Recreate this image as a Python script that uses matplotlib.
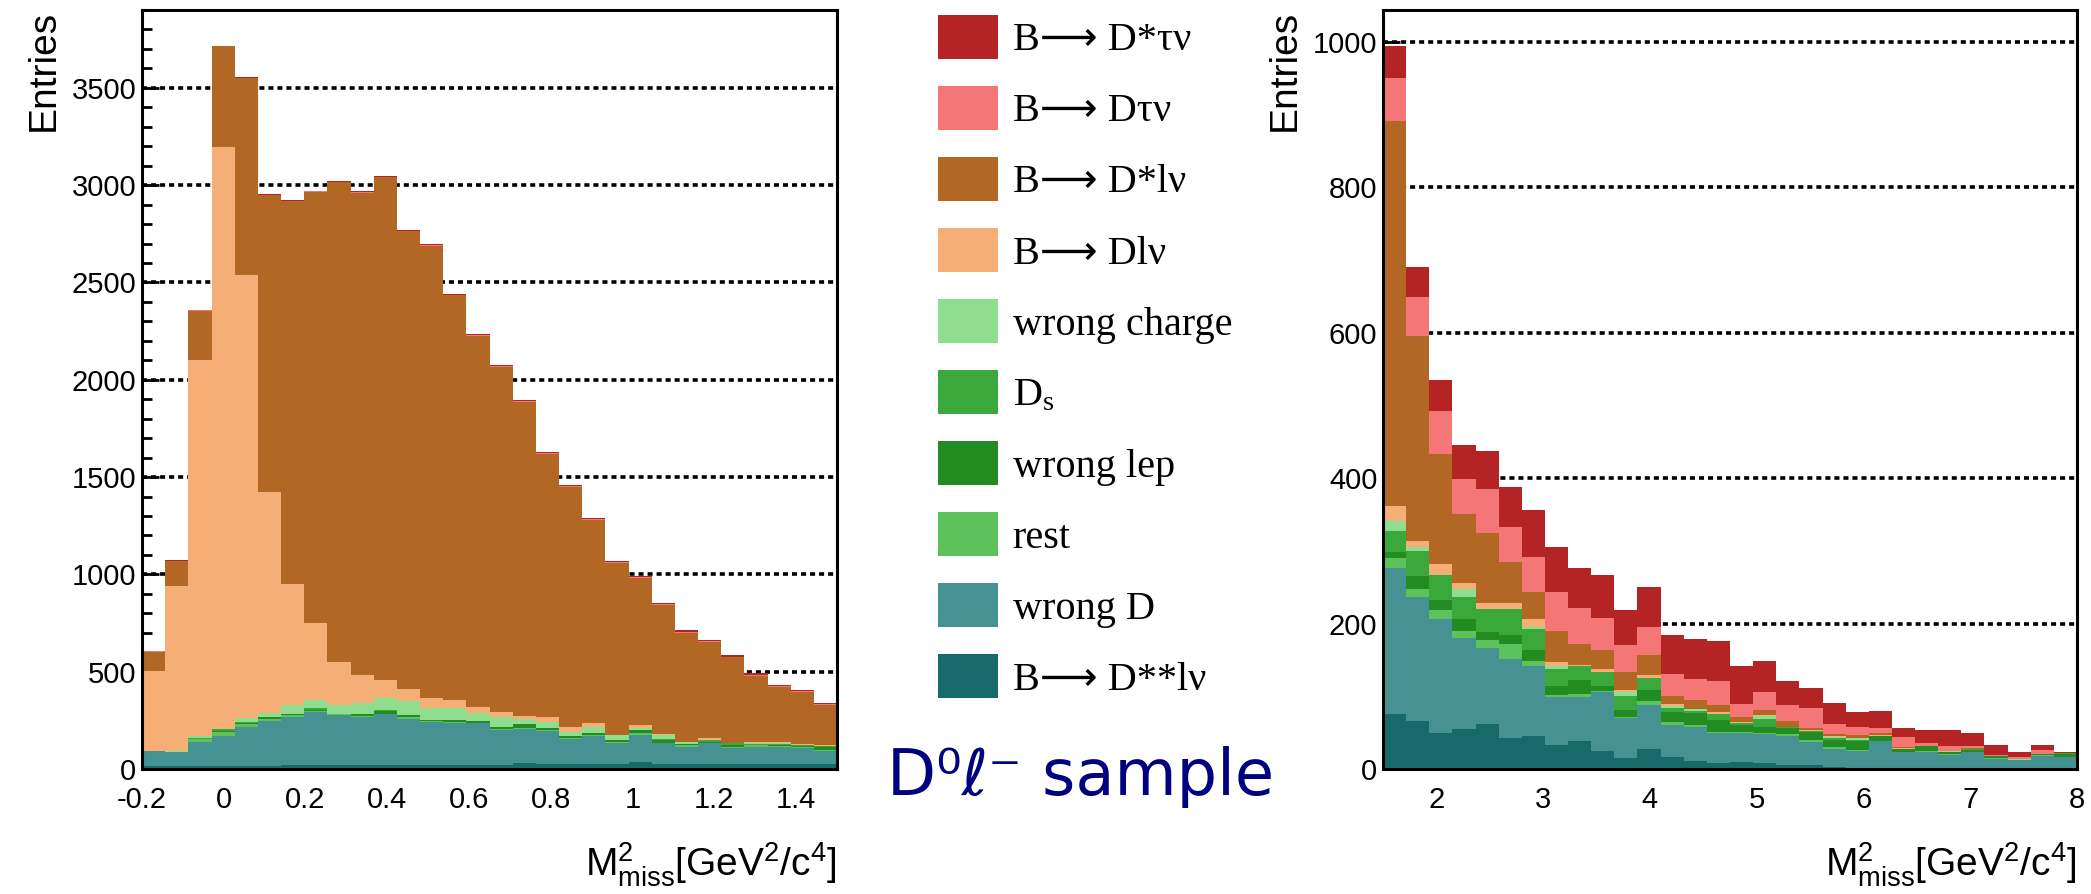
import matplotlib
matplotlib.use("Agg")
import matplotlib.pyplot as plt
from matplotlib.patches import Patch
from matplotlib.ticker import MultipleLocator, FormatStrFormatter
import numpy as np

plt.rcParams['font.family'] = ['Liberation Sans', 'DejaVu Sans']
plt.rcParams['mathtext.default'] = 'regular'

# stacking order, bottom -> top
labels = ["B\u27f6 D**l\u03bd", "wrong D", "rest", "wrong lep", r"D$_\mathregular{s}$",
          "wrong charge", "B\u27f6 Dl\u03bd", "B\u27f6 D*l\u03bd", "B\u27f6 D\u03c4\u03bd", "B\u27f6 D*\u03c4\u03bd"]
colors = ["#186a6a", "#469292", "#5cc25c", "#228b22", "#3aa83a",
          "#8fdd8f", "#f4ae76", "#b26724", "#f47676", "#b42424"]

# left panel: M2miss in [-0.2, 1.5], 30 bins
l_dssl = [14, 14, 14, 14, 14, 14, 22, 22, 22, 22, 22, 22, 22, 22, 22, 22, 30, 28, 28, 28, 28, 38, 28, 28, 28, 28, 28, 28, 28, 28]
l_wrongd = [81, 73, 127, 156, 203, 234, 243, 270, 255, 243, 260, 233, 221, 216, 212, 178, 178, 169, 125, 142, 108, 137, 104, 87, 104, 79, 87, 87, 79, 67]
l_rest = [0, 0, 12, 20, 15, 8, 12, 5, 4, 8, 3, 10, 3, 5, 4, 5, 5, 4, 5, 5, 5, 8, 4, 6, 3, 6, 6, 5, 5, 4]
l_wlep = [0, 0, 2, 3, 4, 10, 8, 8, 4, 8, 12, 12, 5, 8, 8, 12, 17, 12, 10, 12, 10, 17, 13, 5, 5, 12, 3, 3, 4, 12]
l_ds = [0, 0, 5, 12, 6, 2, 0, 6, 0, 4, 5, 0, 0, 0, 0, 0, 0, 0, 0, 0, 0, 0, 4, 3, 9, 8, 5, 5, 5, 6]
l_wcharge = [0, 3, 8, 3, 20, 22, 43, 46, 43, 55, 63, 73, 60, 60, 44, 48, 25, 30, 20, 27, 22, 9, 23, 10, 0, 0, 3, 4, 2, 0]
l_dlnu = [408, 850, 1936, 2988, 2274, 1134, 621, 394, 223, 144, 90, 63, 54, 46, 29, 29, 18, 22, 29, 20, 3, 17, 2, 2, 12, 3, 9, 9, 6, 7]
l_dslnu = [100, 130, 251, 519, 1015, 1524, 1969, 2215, 2464, 2478, 2586, 2350, 2323, 2077, 1908, 1772, 1612, 1354, 1231, 1048, 882, 754, 665, 560, 493, 437, 338, 281, 267, 204]
l_dtaunu = [1, 1, 1, 1, 2, 2, 2, 2, 2, 3, 3, 3, 3, 3, 3, 4, 4, 4, 4, 4, 5, 5, 5, 5, 5, 5, 5, 5, 5, 5]
l_dstaunu = [1, 1, 1, 1, 2, 2, 3, 3, 3, 4, 4, 4, 5, 5, 5, 5, 5, 6, 6, 6, 6, 6, 6, 6, 6, 7, 7, 7, 7, 7]

# right panel: M2miss in [1.5, 8], 30 bins
r_dssl = [76, 66, 50, 55, 62, 43, 45, 33, 38, 25, 15, 27, 17, 11, 8, 10, 8, 5, 5, 3, 2, 2, 2, 2, 2, 2, 2, 2, 2, 2]
r_wrongd = [201, 171, 156, 125, 105, 108, 97, 66, 61, 81, 55, 61, 43, 47, 41, 40, 40, 41, 32, 25, 23, 36, 21, 22, 17, 21, 12, 10, 16, 14]
r_rest = [13, 10, 13, 10, 10, 21, 7, 3, 4, 1, 1, 5, 5, 2, 2, 1, 2, 2, 3, 2, 1, 1, 1, 1, 1, 1, 1, 1, 1, 1]
r_wlep = [8, 18, 13, 16, 11, 13, 14, 12, 20, 7, 10, 15, 13, 17, 16, 9, 8, 9, 11, 10, 12, 6, 3, 6, 3, 2, 3, 0, 2, 4]
r_ds = [30, 35, 35, 31, 32, 35, 30, 24, 18, 19, 20, 17, 6, 3, 9, 3, 11, 1, 1, 2, 2, 1, 1, 1, 1, 1, 0, 0, 0, 1]
r_wcharge = [13, 5, 0, 10, 0, 0, 2, 4, 0, 0, 5, 0, 3, 2, 0, 0, 4, 0, 0, 2, 2, 0, 0, 0, 1, 1, 0, 1, 0, 0]
r_dlnu = [21, 8, 15, 9, 8, 8, 11, 5, 2, 4, 2, 4, 2, 1, 3, 1, 1, 0, 1, 2, 1, 1, 1, 0, 0, 0, 0, 0, 0, 0]
r_dslnu = [529, 283, 151, 95, 97, 57, 37, 43, 29, 26, 26, 28, 12, 12, 9, 7, 7, 8, 3, 2, 4, 2, 1, 0, 0, 1, 0, 0, 0, 0]
r_dtaunu = [60, 53, 59, 48, 60, 48, 49, 54, 49, 45, 37, 38, 30, 29, 33, 18, 25, 22, 28, 14, 11, 7, 14, 4, 7, 2, 1, 2, 5, 0]
r_dstaunu = [43, 41, 43, 46, 52, 55, 64, 61, 56, 59, 48, 55, 53, 55, 55, 53, 43, 33, 28, 29, 20, 24, 12, 17, 21, 18, 14, 8, 7, 2]

left = [l_dssl, l_wrongd, l_rest, l_wlep, l_ds, l_wcharge, l_dlnu, l_dslnu, l_dtaunu, l_dstaunu]
right = [r_dssl, r_wrongd, r_rest, r_wlep, r_ds, r_wcharge, r_dlnu, r_dslnu, r_dtaunu, r_dstaunu]

W, H = 2091, 894
fig = plt.figure(figsize=(W / 100, H / 100), dpi=100)
ax1 = fig.add_axes([142 / W, 125 / H, 695 / W, 759 / H])
ax2 = fig.add_axes([1383 / W, 125 / H, 694 / W, 759 / H])

xlabel = r"M$_\mathregular{miss}^\mathregular{2}$[GeV$^\mathregular{2}$/c$^\mathregular{4}$]"


def draw(ax, layers, lo, hi, ymax, ymajor, yminor, xmajor):
    edges = np.linspace(lo, hi, len(layers[0]) + 1)
    centers = 0.5 * (edges[1:] + edges[:-1])
    ax.hist([centers] * len(layers), bins=edges, weights=layers, stacked=True,
            histtype='stepfilled', color=colors, linewidth=0)
    ax.set_xlim(lo, hi)
    ax.set_ylim(0, ymax)
    ax.set_axisbelow(True)
    ax.yaxis.grid(True, which='major', color='black', linestyle=(0, (1.4, 1.1)), linewidth=2.6)
    ax.yaxis.set_major_locator(MultipleLocator(ymajor))
    ax.yaxis.set_minor_locator(MultipleLocator(yminor))
    ax.xaxis.set_major_locator(MultipleLocator(xmajor))
    ax.xaxis.set_major_formatter(FormatStrFormatter('%g'))
    ax.tick_params(axis='y', which='major', direction='in', length=12, width=2, labelsize=21, pad=4)
    ax.tick_params(axis='y', which='minor', direction='in', length=7, width=2)
    ax.tick_params(axis='x', which='both', length=0, labelsize=21, pad=12)
    for s in ax.spines.values():
        s.set_linewidth(2.2)
    ax.set_ylabel("Entries", loc='top', fontsize=28)
    ax.yaxis.set_label_coords(-0.115, 1.0)
    ax.set_xlabel(xlabel, loc='right', fontsize=28)
    ax.xaxis.set_label_coords(1.0, -0.095)


draw(ax1, left, -0.2, 1.5, 3900, 500, 100, 0.2)
draw(ax2, right, 1.5, 8.0, 1044, 200, 100, 1)

handles = [Patch(facecolor=c, edgecolor='none', label=l) for c, l in zip(colors, labels)][::-1]
fig.legend(handles=handles, loc='upper left', bbox_to_anchor=(938 / W, 1 - 15 / H),
           frameon=False, borderpad=0, borderaxespad=0, handlelength=1.5, handleheight=1.3,
           handletextpad=0.35, labelspacing=0.66,
           prop={'family': ['Liberation Serif', 'DejaVu Sans'], 'size': 29})

fig.text(887 / W, 1 - 777 / H, "D\u2070\u2113\u207b sample", color='#000080', fontsize=46,
         family='DejaVu Sans', ha='left', va='center')

fig.savefig("out.png", dpi=100)
